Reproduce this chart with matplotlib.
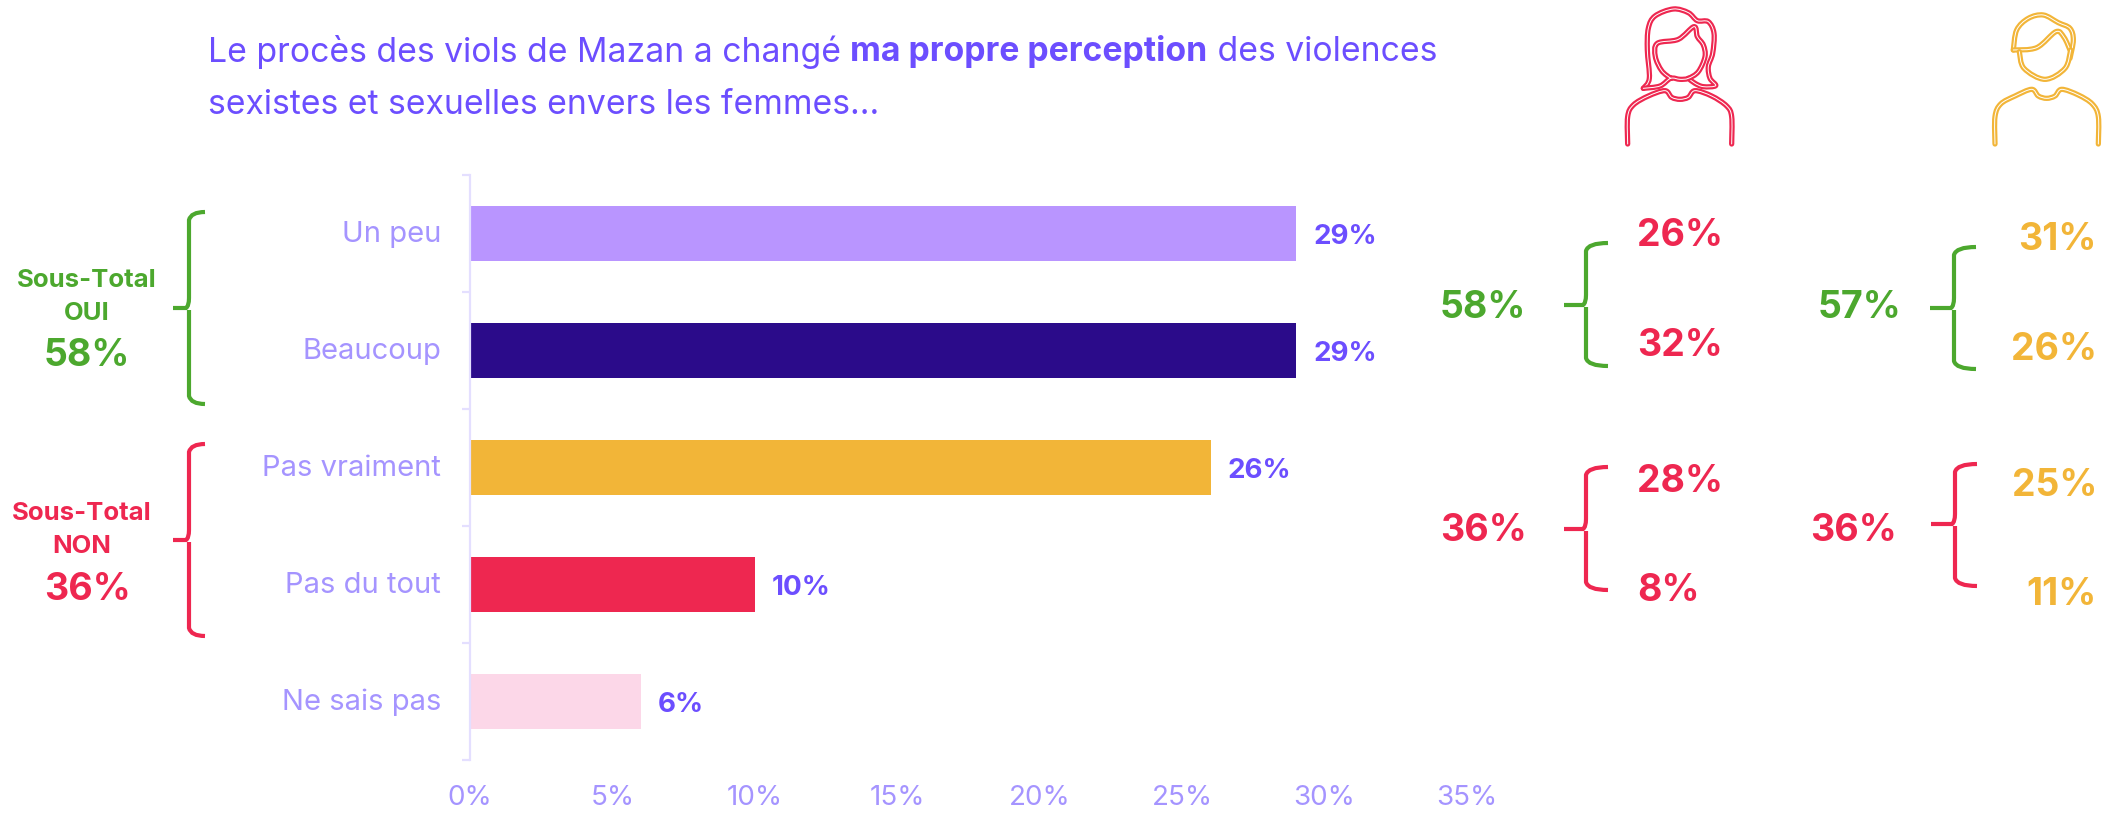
# sondage Mazan: barres + accolades sous-totaux + colonnes femmes/hommes
import matplotlib
matplotlib.use("Agg")
import matplotlib.pyplot as plt
from matplotlib.path import Path
from matplotlib.patches import PathPatch

FONT = "Inter"
W, H = 2103, 813

categories = ["Un peu", "Beaucoup", "Pas vraiment", "Pas du tout", "Ne sais pas"]
values = [29, 29, 26, 10, 6]
xticks = [0, 5, 10, 15, 20, 25, 30, 35]
bar_colors = ["#B995FF", "#2B0B8A", "#F2B538", "#EE2750", "#FCD7E8"]

VIOLET = "#6C4EFF"
LILAC = "#A594FF"
GREEN = "#4CA82E"
RED = "#EE2750"
YELLOW = "#F2B538"

plt.rcParams["font.family"] = FONT
fig = plt.figure(figsize=(W / 100, H / 100), dpi=100)
fig.patch.set_facecolor("white")

# axe principal
ax = fig.add_axes([470 / W, 1 - 760 / H, 997 / W, 585 / H])
ypos = range(len(categories))
ax.barh(list(ypos), values, height=0.465, color=bar_colors)
ax.set_xlim(0, 35)
ax.set_ylim(len(categories) - 0.5, -0.5)
for s in ["top", "right", "bottom"]:
    ax.spines[s].set_visible(False)
ax.spines["left"].set_color("#E4DFFF")
ax.spines["left"].set_linewidth(1.6)
ax.set_yticks([i - 0.5 for i in range(len(categories) + 1)])
ax.set_yticklabels([])
ax.tick_params(axis="y", color="#E4DFFF", length=6, width=1.6)
ax.set_xticks(xticks)
ax.set_xticklabels([f"{v}%" for v in xticks], fontsize=20, color=LILAC)
ax.tick_params(axis="x", length=0, pad=18)
for i, (c, v) in enumerate(zip(categories, values)):
    ax.text(-29 / 28.5, i + 0.01, c, ha="right", va="center", fontsize=21, color=LILAC)
    ax.text(v + 0.6, i + 0.03, f"{v}%", ha="left", va="center", fontsize=20,
            color=VIOLET, fontweight="bold")

# calque en pixels pour titre, accolades, icones
ov = fig.add_axes([0, 0, 1, 1], zorder=3)
ov.set_xlim(0, W)
ov.set_ylim(H, 0)
ov.axis("off")
ov.patch.set_alpha(0)


def rich_line(x, y, parts):
    r = fig.canvas.get_renderer()
    for txt, weight in parts:
        t = ov.text(x, y, txt, fontsize=24.3, color=VIOLET, fontweight=weight, va="center", ha="left")
        x = ov.transData.inverted().transform(t.get_window_extent(r))[1][0]


rich_line(208, 52, [("Le procès des viols de Mazan a changé ", "normal"),
                    ("ma propre perception", "bold"),
                    (" des violences", "normal")])
rich_line(208, 105, [("sexistes et sexuelles envers les femmes…", "normal")])


def brace(tip, spine, end, top, bottom, mid, color):
    v = [(end, top), (spine + 2, top), (spine, top + 8), (spine, mid - 10), (spine, mid - 2), (spine - 3, mid),
         (tip, mid), (spine - 3, mid), (spine, mid + 2), (spine, mid + 10), (spine, bottom - 8),
         (spine + 2, bottom), (end, bottom)]
    c = [Path.MOVETO, Path.CURVE3, Path.CURVE3, Path.LINETO, Path.CURVE3, Path.CURVE3,
         Path.LINETO, Path.MOVETO, Path.MOVETO, Path.LINETO, Path.LINETO, Path.CURVE3, Path.CURVE3]
    ov.add_patch(PathPatch(Path(v, c), fill=False, edgecolor=color, lw=3.0, capstyle="butt"))


brace(173, 189, 205, 212, 404, 308, GREEN)
brace(173, 189, 205, 444, 636, 540, RED)
brace(1564, 1586, 1608, 243, 366, 305, GREEN)
brace(1564, 1586, 1608, 467, 590, 529, RED)
brace(1930, 1954, 1976, 247, 369, 308, GREEN)
brace(1931, 1955, 1977, 464, 586, 524, RED)

# sous-totaux a gauche
for txt, x, y, col, fs in [("Sous-Total", 87, 280, GREEN, 18.5), ("OUI", 87, 313, GREEN, 18.5), ("58%", 87, 356, GREEN, 27),
                           ("Sous-Total", 82, 513, RED, 18.5), ("NON", 82, 546, RED, 18.5), ("36%", 87, 590, RED, 27)]:
    ov.text(x, y, txt, ha="center", va="center", color=col, fontsize=fs, fontweight="bold")

# colonnes femmes / hommes
for txt, x, y, col in [("58%", 1483, 308, GREEN), ("36%", 1483, 531, RED),
                       ("57%", 1860, 308, GREEN), ("36%", 1854, 531, RED)]:
    ov.text(x, y, txt, ha="center", va="center", color=col, fontsize=27, fontweight="bold")
for txt, y in [("26%", 236), ("32%", 346), ("28%", 482), ("8%", 591)]:
    ov.text(1637, y, txt, ha="left", va="center", color=RED, fontsize=27, fontweight="bold")
for txt, y in [("31%", 240), ("26%", 350), ("25%", 486), ("11%", 595)]:
    ov.text(2097, y, txt, ha="right", va="center", color=YELLOW, fontsize=27, fontweight="bold")


def stroke(pts, color):
    # lissage catmull-rom, trait double (couleur + filet blanc)
    pts = [(1580 + x / 3, y / 3) for x, y in pts]
    v, c = [pts[0]], [Path.MOVETO]
    for i in range(len(pts) - 1):
        p0 = pts[max(i - 1, 0)]
        p1, p2 = pts[i], pts[i + 1]
        p3 = pts[min(i + 2, len(pts) - 1)]
        v += [(p1[0] + (p2[0] - p0[0]) / 6, p1[1] + (p2[1] - p0[1]) / 6),
              (p2[0] - (p3[0] - p1[0]) / 6, p2[1] - (p3[1] - p1[1]) / 6), p2]
        c += [Path.CURVE4] * 3
    ov.add_patch(PathPatch(Path(v, c), fill=False, edgecolor=color, lw=3.8, joinstyle="round", capstyle="round"))
    ov.add_patch(PathPatch(Path(v, c), fill=False, edgecolor="white", lw=0.7, joinstyle="round", capstyle="round"))


woman = [
    [(143, 432), (143, 350), (160, 315), (205, 288), (255, 272), (275, 292), (300, 298), (325, 292), (345, 272), (395, 288),
     (440, 318), (455, 350), (455, 432)],
    [(190, 265), (208, 235), (202, 150), (205, 85), (225, 48), (280, 27), (325, 38), (352, 62), (385, 65), (402, 100),
     (398, 160), (385, 200), (390, 235), (407, 257), (370, 260), (345, 250), (325, 235)],
    [(190, 265), (240, 258), (272, 235), (300, 238), (325, 235), (355, 215), (375, 170), (370, 135), (352, 110), (342, 80),
     (295, 118), (232, 130), (226, 170), (245, 212), (272, 235)],
]
man = [
    [(1245, 432), (1245, 350), (1262, 312), (1305, 288), (1355, 268), (1375, 288), (1400, 295), (1425, 288), (1445, 268),
     (1495, 285), (1537, 312), (1555, 350), (1555, 432)],
    [(1300, 150), (1310, 90), (1345, 55), (1390, 45), (1435, 68), (1470, 85), (1480, 120), (1470, 175)],
    [(1300, 150), (1370, 143), (1428, 95), (1452, 112), (1470, 150)],
    [(1318, 155), (1332, 205), (1395, 238), (1455, 205), (1472, 150)],
]
for s in woman:
    stroke(s, RED)
for s in man:
    stroke(s, YELLOW)

fig.savefig("out.png", dpi=100, facecolor="white")
